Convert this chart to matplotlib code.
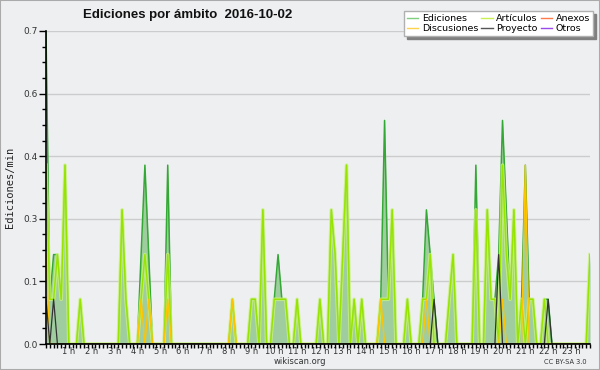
import numpy as np
import matplotlib
matplotlib.use("Agg")
import matplotlib.pyplot as plt
from matplotlib.ticker import FixedLocator, MultipleLocator, FuncFormatter
from matplotlib.lines import Line2D
from matplotlib.patches import Rectangle

# edits per minute, 10-minute bins over the day (144 bins)
ediciones = [
    0.7, 0.1, 0.2, 0.2, 0.1, 0.4, 0, 0, 0, 0.1, 0, 0, 0, 0, 0, 0, 0, 0, 0, 0, 0.3, 0.1, 0, 0,
    0, 0.2, 0.4, 0.2, 0, 0, 0, 0, 0.4, 0, 0, 0, 0, 0, 0, 0, 0, 0, 0, 0, 0, 0, 0, 0,
    0, 0.1, 0, 0, 0, 0, 0.1, 0.1, 0, 0.3, 0, 0, 0.1, 0.2, 0.1, 0.1, 0, 0, 0.1, 0, 0, 0, 0, 0,
    0.1, 0, 0, 0.3, 0.2, 0, 0.2, 0.4, 0, 0.1, 0, 0.1, 0, 0, 0, 0, 0.1, 0.5, 0.1, 0.3, 0, 0, 0, 0.1,
    0, 0, 0, 0.1, 0.3, 0.2, 0.1, 0, 0, 0, 0.1, 0.2, 0, 0, 0, 0, 0, 0.4, 0, 0, 0.3, 0.1, 0.1, 0.2,
    0.5, 0.3, 0.1, 0.3, 0, 0.1, 0.4, 0.1, 0.1, 0, 0, 0.1, 0.1, 0, 0, 0, 0, 0, 0, 0, 0, 0, 0, 0.2,
]
articulos = [
    0.4, 0.1, 0.1, 0.2, 0.1, 0.4, 0, 0, 0, 0.1, 0, 0, 0, 0, 0, 0, 0, 0, 0, 0, 0.3, 0.1, 0, 0,
    0, 0.1, 0.2, 0.1, 0, 0, 0, 0, 0.2, 0, 0, 0, 0, 0, 0, 0, 0, 0, 0, 0, 0, 0, 0, 0,
    0, 0.1, 0, 0, 0, 0, 0.1, 0.1, 0, 0.3, 0, 0, 0.1, 0.1, 0.1, 0.1, 0, 0, 0.1, 0, 0, 0, 0, 0,
    0.1, 0, 0, 0.3, 0.2, 0, 0.2, 0.4, 0, 0.1, 0, 0.1, 0, 0, 0, 0, 0.1, 0.1, 0.1, 0.3, 0, 0, 0, 0.1,
    0, 0, 0, 0.1, 0.1, 0.2, 0, 0, 0, 0, 0.1, 0.2, 0, 0, 0, 0, 0, 0.3, 0, 0, 0.3, 0.1, 0.1, 0,
    0.4, 0.2, 0.1, 0.3, 0, 0.1, 0, 0.1, 0.1, 0, 0, 0.1, 0, 0, 0, 0, 0, 0, 0, 0, 0, 0, 0, 0.2,
]
discusiones = [0.0] * 144
for i, v in [(0, 0.2), (25, 0.1), (27, 0.1), (32, 0.1), (49, 0.1), (88, 0.1), (100, 0.1), (120, 0.1), (126, 0.4)]:
    discusiones[i] = v
proyecto = [0.0] * 144
for i, v in [(0, 0.1), (2, 0.1), (102, 0.1), (119, 0.2), (132, 0.1)]:
    proyecto[i] = v
anexos = [0.0] * 144
otros = [0.0] * 144

hour_labels = ["%d h" % h for h in range(1, 24)]

bg = "#eeeff1"
fig = plt.figure(figsize=(6, 3.7), dpi=100, facecolor=bg)
ax = fig.add_axes([46 / 600, 26 / 370, 544 / 600, 313 / 370], facecolor=bg)

x = np.arange(144)
ax.fill_between(x, 0, ediciones, color="#a0cda0", lw=0, zorder=1)
ax.plot(x, ediciones, color="#34a834", lw=1.1, zorder=2)
ax.plot(x, articulos, color="#c8f27a", lw=2.6, alpha=0.8, zorder=2.1)
ax.plot(x, articulos, color="#96e400", lw=1.0, zorder=2.2)
ax.plot(x, discusiones, color="#ffc400", lw=1.0, zorder=2.3)
ax.plot(x, proyecto, color="#333333", lw=0.9, zorder=2.4)
ax.plot(x, anexos, color="#ff7040", lw=0.9, zorder=1.5)
ax.plot(x, otros, color="#9040e0", lw=0.9, zorder=1.5)

ax.set_xlim(0, 143)
ax.set_ylim(0, 0.7)

yt = [0, 0.14, 0.28, 0.42, 0.56, 0.7]
ax.yaxis.set_major_locator(FixedLocator(yt))
ax.yaxis.set_major_formatter(FuncFormatter(lambda v, p: "%.1f" % v))
ax.yaxis.set_minor_locator(MultipleLocator(0.035))
ax.xaxis.set_major_locator(FixedLocator(list(range(6, 144, 6))))
ax.set_xticklabels(hour_labels)
ax.xaxis.set_minor_locator(MultipleLocator(1))

ax.tick_params(axis="y", which="major", length=5, width=1, labelsize=6.5, labelcolor="#333333", pad=1)
ax.tick_params(axis="y", which="minor", length=3, width=1)
ax.tick_params(axis="x", which="both", length=3, width=1, labelsize=6, labelcolor="#333333", pad=-0.5)

for g in yt[1:]:
    ax.axhline(g, color="#cccccc", lw=1, zorder=0.5)

for s in ["top", "right"]:
    ax.spines[s].set_visible(False)
ax.spines["left"].set_linewidth(1.2)
ax.spines["bottom"].set_linewidth(1.2)

fig.text(188 / 600, 1 - 15 / 370, "Ediciones por ámbito  2016-10-02", ha="center", va="center",
         fontsize=9.5, fontweight="bold", family="Liberation Sans", color="#111111")
fig.text(10 / 600, 1 - 187 / 370, "Ediciones/min", rotation=90, ha="center", va="center",
         fontsize=7.5, family="DejaVu Sans Mono", color="#222222")
fig.text(300 / 600, 1 - 362 / 370, "wikiscan.org", ha="center", va="center", fontsize=6, color="#333333")
fig.text(565 / 600, 1 - 362 / 370, "CC BY-SA 3.0", ha="center", va="center", fontsize=4.8, color="#333333")

handles = [
    Line2D([], [], color="#7fcf7f", lw=1),
    Line2D([], [], color="#ffd24d", lw=1),
    Line2D([], [], color="#c8f050", lw=1),
    Line2D([], [], color="#555555", lw=1),
    Line2D([], [], color="#ff7a4a", lw=1),
    Line2D([], [], color="#9a4ae8", lw=1),
]
names = ["Ediciones", "Discusiones", "Artículos", "Proyecto", "Anexos", "Otros"]
fig.legend(handles, names, ncol=3, loc="upper right", bbox_to_anchor=(593 / 600, 1 - 11 / 370),
           fontsize=6.8, frameon=True, fancybox=False, facecolor="white", edgecolor="#b0b0b0",
           framealpha=1, handlelength=1.2, handletextpad=0.4, columnspacing=0.3,
           labelspacing=0.15, borderpad=0.3, borderaxespad=0,
           shadow={"color": "#808080", "alpha": 1})

fig.patches.append(Rectangle((0, 0), 1, 1, transform=fig.transFigure, fill=False,
                             edgecolor="#aaaaaa", lw=1.5))

fig.savefig("out.png", dpi=100, facecolor=bg)
